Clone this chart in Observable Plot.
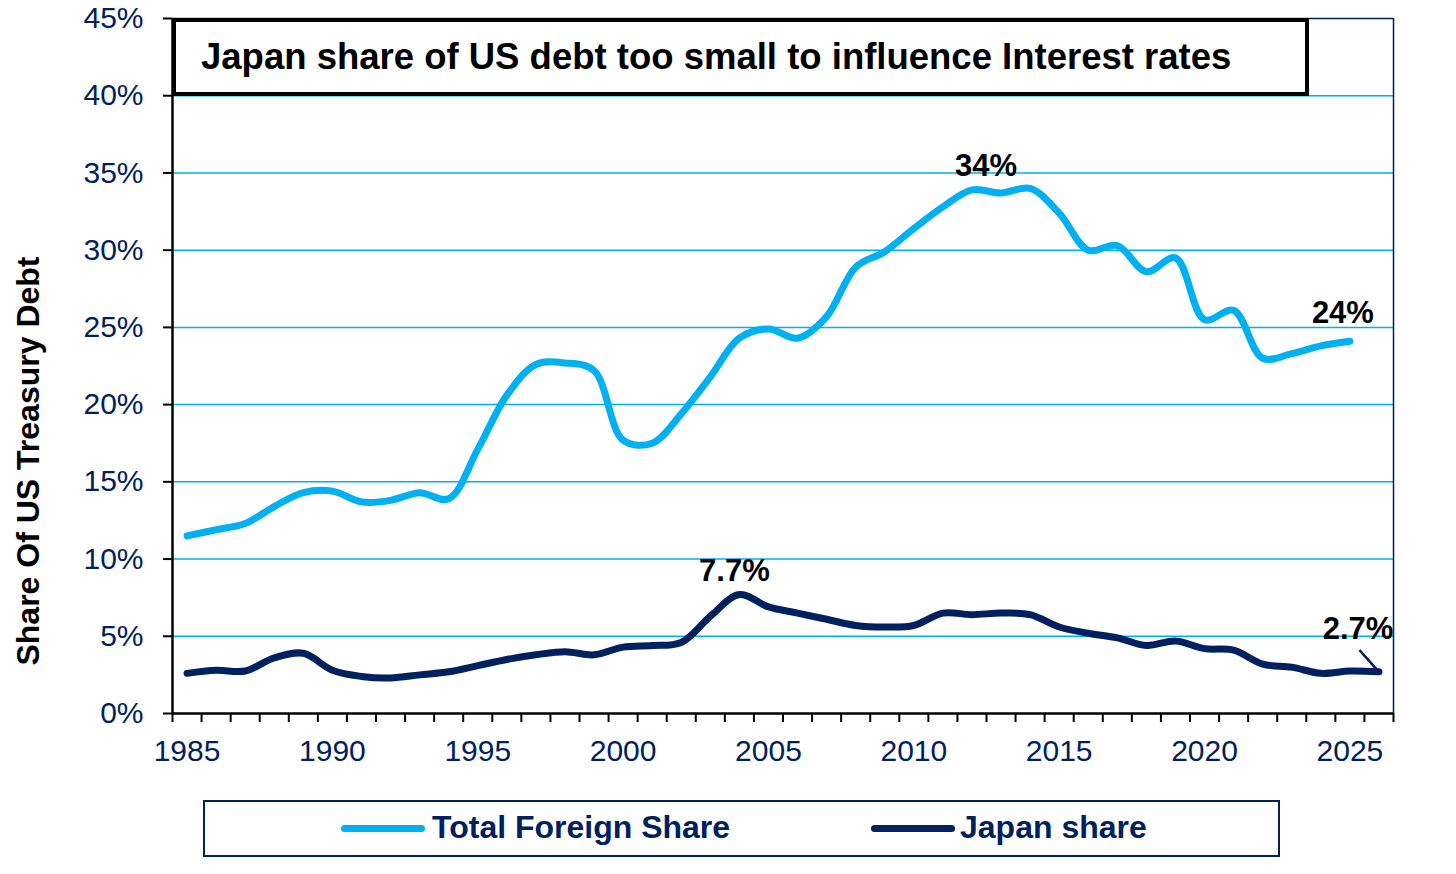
<!DOCTYPE html>
<html>
<head>
<meta charset="utf-8">
<script src="https://cdn.jsdelivr.net/npm/d3@7"></script>
<script src="https://cdn.jsdelivr.net/npm/@observablehq/plot@0.6"></script>
<style>
  body { margin: 0; background: #fff; font-family: Arial, "Liberation Sans", sans-serif; }
  #wrap { position: relative; width: 1456px; height: 874px; overflow: hidden; }
  #chart { position: absolute; left: 0; top: 0; }
  #titlebox { position: absolute; left: 172px; top: 18px; width: 1137px; height: 78px; box-sizing: border-box;
    border: 4px solid #000; background: #fff; }
  #title { position: absolute; left: 201px; top: 39px; font-size: 36.5px; font-weight: bold; line-height: 1; color: #000; white-space: nowrap; }
  #ytitle { position: absolute; left: 28px; top: 461px; transform: translate(-50%, -50%) rotate(-90deg);
    font-size: 32px; font-weight: bold; color: #000; white-space: nowrap; line-height: 1; }
  #legend { position: absolute; left: 203px; top: 800px; width: 1077px; height: 57px; box-sizing: border-box;
    border: 2.5px solid #002060; background: #fff; }
  .sw { position: absolute; height: 7px; border-radius: 4px; }
  .lt { position: absolute; font-size: 32px; font-weight: bold; color: #002060; line-height: 1; white-space: nowrap; }
</style>
</head>
<body>
<div id="wrap">
  <div id="chart"></div>
  <div id="titlebox"></div>
  <div id="title"></div>
  <div id="ytitle"></div>
  <div id="legend"></div>
  <div class="sw" id="sw1" style="left:341px; top:825px; width:84px;"></div>
  <div class="lt" id="lt1" style="left:432px; top:811px;"></div>
  <div class="sw" id="sw2" style="left:871px; top:825px; width:84px;"></div>
  <div class="lt" id="lt2" style="left:960px; top:811px;"></div>
</div>
<script>
// ---- Data ----
const titleText = "Japan share of US debt too small to influence Interest rates";
const yAxisTitle = "Share Of US Treasury Debt";
const seriesNames = ["Total Foreign Share", "Japan share"];
const seriesColors = ["#00B0F0", "#002060"];

const foreignYears = [1985,1986,1987,1988,1989,1990,1991,1992,1993,1994,1995,1996,1997,1998,1999,2000,2001,2002,2003,2004,2005,2006,2007,2008,2009,2010,2011,2012,2013,2014,2015,2016,2017,2018,2019,2020,2021,2022,2023,2024,2025];
const foreignShare = [11.5,11.9,12.3,13.4,14.3,14.4,13.7,13.8,14.3,13.9,17.1,20.6,22.6,22.7,22.2,17.7,17.5,19.4,21.8,24.3,24.9,24.3,25.7,28.9,29.9,31.4,32.8,33.9,33.7,34.0,32.4,30.0,30.3,28.6,29.5,25.5,26.1,23.0,23.3,23.8,24.1];

const japanYears = [1985,1986,1987,1988,1989,1990,1991,1992,1993,1994,1995,1996,1997,1998,1999,2000,2001,2002,2003,2004,2005,2006,2007,2008,2009,2010,2011,2012,2013,2014,2015,2016,2017,2018,2019,2020,2021,2022,2023,2024,2025,2026];
const japanShare = [2.6,2.8,2.75,3.6,3.9,2.8,2.4,2.3,2.5,2.7,3.1,3.5,3.8,4.0,3.8,4.3,4.4,4.6,6.3,7.7,6.9,6.5,6.1,5.7,5.6,5.7,6.5,6.4,6.5,6.4,5.6,5.2,4.9,4.4,4.7,4.2,4.1,3.2,3.0,2.6,2.75,2.7];

const yTicks = [0,5,10,15,20,25,30,35,40,45];
const xLabelYears = [1985,1990,1995,2000,2005,2010,2015,2020,2025];
const yearBoundaries = [1984.5,1985.5,1986.5,1987.5,1988.5,1989.5,1990.5,1991.5,1992.5,1993.5,1994.5,1995.5,1996.5,1997.5,1998.5,1999.5,2000.5,2001.5,2002.5,2003.5,2004.5,2005.5,2006.5,2007.5,2008.5,2009.5,2010.5,2011.5,2012.5,2013.5,2014.5,2015.5,2016.5,2017.5,2018.5,2019.5,2020.5,2021.5,2022.5,2023.5,2024.5,2025.5,2026.5];

// annotation texts
const foreignPeakText = "34%";
const foreignLastText = "24%";
const japanPeakText = "7.7%";
const japanLastText = "2.7%";
const japanLeaderFrom = {year: 2025.33, value: 4.1};

// ---- Build tables ----
const foreign = foreignYears.map((y, i) => ({year: y, value: foreignShare[i]}));
const japan = japanYears.map((y, i) => ({year: y, value: japanShare[i]}));
const fPeak = foreign.find(d => d.year === 2012);
const fLast = foreign[foreign.length - 1];
const jPeak = japan.find(d => d.year === 2004);
const jLast = japan[japan.length - 1];

const labelFont = {fontSize: 31, fontWeight: "bold", fill: "#000", textAnchor: "middle", lineAnchor: "bottom"};

const chart = Plot.plot({
  width: 1456,
  height: 780,
  marginLeft: 172,
  marginRight: 63,
  marginTop: 18,
  marginBottom: 67,
  style: {fontFamily: "Arial, 'Liberation Sans', sans-serif", fontSize: "30px", background: "transparent", overflow: "visible"},
  x: {domain: [yearBoundaries[0], yearBoundaries[yearBoundaries.length - 1]]},
  y: {domain: [yTicks[0], yTicks[yTicks.length - 1]]},
  marks: [
    Plot.ruleY(yTicks.slice(1, -1), {stroke: seriesColors[0], strokeWidth: 1.5}),
    Plot.ruleY([yTicks[yTicks.length - 1]], {stroke: seriesColors[1], strokeWidth: 1.5}),
    Plot.ruleX([yearBoundaries[yearBoundaries.length - 1]], {stroke: seriesColors[1], strokeWidth: 1.5}),
    Plot.axisY({ticks: yTicks, tickFormat: d => d + "%", tickSize: 9, tickPadding: 20, stroke: "#000", strokeWidth: 2, fill: "#002060", label: null}),
    Plot.axisX({ticks: yearBoundaries, tickSize: 9, tickFormat: () => "", stroke: "#000", strokeWidth: 2, label: null}),
    Plot.axisX({ticks: xLabelYears, tickSize: 0, tickPadding: 26, tickFormat: d => String(d), fill: "#002060", label: null}),
    Plot.ruleX([yearBoundaries[0]], {stroke: "#000", strokeWidth: 2.5}),
    Plot.ruleY([0], {stroke: "#000", strokeWidth: 2.5}),
    Plot.line(foreign, {x: "year", y: "value", stroke: seriesColors[0], strokeWidth: 7, curve: "catmull-rom", strokeLinecap: "round", strokeLinejoin: "round"}),
    Plot.line(japan, {x: "year", y: "value", stroke: seriesColors[1], strokeWidth: 7, curve: "catmull-rom", strokeLinecap: "round", strokeLinejoin: "round"}),
    Plot.link([jLast], {x1: () => japanLeaderFrom.year, y1: () => japanLeaderFrom.value, x2: "year", y2: "value", stroke: seriesColors[1], strokeWidth: 2.5}),
    Plot.text([fPeak], {x: "year", y: "value", text: () => foreignPeakText, dx: 14, dy: -14, ...labelFont}),
    Plot.text([fLast], {x: "year", y: "value", text: () => foreignLastText, dx: -7, dy: -18, ...labelFont}),
    Plot.text([jPeak], {x: "year", y: "value", text: () => japanPeakText, dx: -5, dy: -14, ...labelFont}),
    Plot.text([jLast], {x: "year", y: "value", text: () => japanLastText, dx: -21, dy: -33, ...labelFont})
  ]
});
document.getElementById("chart").appendChild(chart);
document.getElementById("title").textContent = titleText;
document.getElementById("ytitle").textContent = yAxisTitle;
document.getElementById("sw1").style.background = seriesColors[0];
document.getElementById("sw2").style.background = seriesColors[1];
document.getElementById("lt1").textContent = seriesNames[0];
document.getElementById("lt2").textContent = seriesNames[1];
</script>
</body>
</html>
